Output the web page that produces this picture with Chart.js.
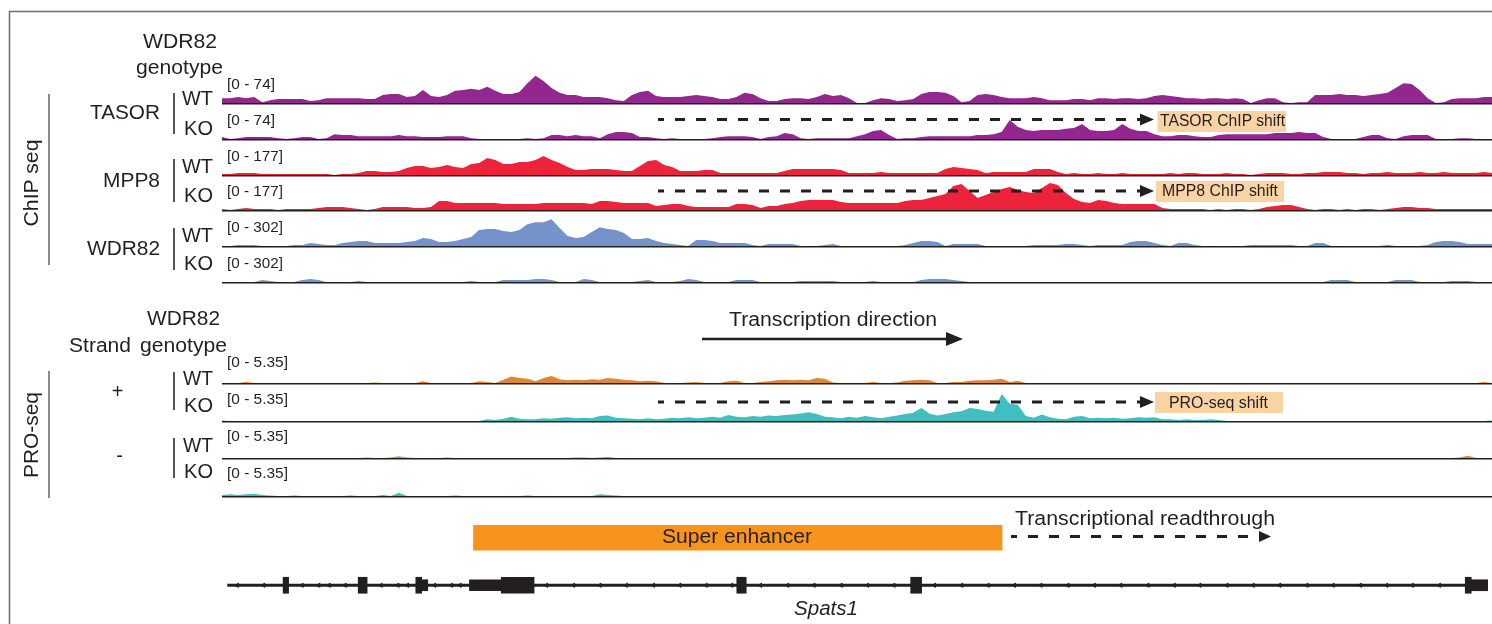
<!DOCTYPE html>
<html>
<head>
<meta charset="utf-8">
<title>Spats1 locus - ChIP-seq and PRO-seq tracks</title>
<script src="https://cdn.jsdelivr.net/npm/chart.js"></script>
<style>
  html, body { margin: 0; padding: 0; background: #fff; }
  #fig { position: relative; width: 1492px; height: 624px; overflow: hidden; }
  #fig canvas { position: absolute; }
  #fig svg { position: absolute; left: 0; top: 0; }
  svg text { fill: #231f20; font-family: "Liberation Sans", Arial, sans-serif; font-size: 20px; }
  svg text.rng { font-size: 15px; }
  svg text.box { font-size: 16px; }
</style>
</head>
<body>
<div id="fig">
<svg id="notes" width="1492" height="624" viewBox="0 0 1492 624">
  <!-- frame -->
  <path d="M9.5 624 V11.5 H1492" fill="none" stroke="#6d6e71" stroke-width="1.5"/>

  <!-- ChIP block -->
  <text x="143" y="48" textLength="74" lengthAdjust="spacingAndGlyphs">WDR82</text>
  <text x="136" y="74" textLength="87" lengthAdjust="spacingAndGlyphs">genotype</text>
  <path d="M49 94 V265" stroke="#4d4d4f" stroke-width="1.3"/>
  <text transform="translate(38,183) rotate(-90)" text-anchor="middle" textLength="87" lengthAdjust="spacingAndGlyphs">ChIP seq</text>

  <text x="90" y="119" textLength="70" lengthAdjust="spacingAndGlyphs">TASOR</text>
  <path d="M174 93 V134" stroke="#231f20" stroke-width="1.5"/>
  <text x="182" y="105" textLength="31" lengthAdjust="spacingAndGlyphs">WT</text>
  <text x="184" y="135" textLength="29" lengthAdjust="spacingAndGlyphs">KO</text>

  <text x="103" y="187" textLength="57" lengthAdjust="spacingAndGlyphs">MPP8</text>
  <path d="M174 159 V202" stroke="#231f20" stroke-width="1.5"/>
  <text x="182" y="173" textLength="31" lengthAdjust="spacingAndGlyphs">WT</text>
  <text x="184" y="202" textLength="29" lengthAdjust="spacingAndGlyphs">KO</text>

  <text x="87" y="255" textLength="73" lengthAdjust="spacingAndGlyphs">WDR82</text>
  <path d="M174 228 V270" stroke="#231f20" stroke-width="1.5"/>
  <text x="182" y="242" textLength="31" lengthAdjust="spacingAndGlyphs">WT</text>
  <text x="184" y="270" textLength="29" lengthAdjust="spacingAndGlyphs">KO</text>

  <text class="rng" x="227" y="89" textLength="48" lengthAdjust="spacingAndGlyphs">[0 - 74]</text>
  <text class="rng" x="227" y="125" textLength="48" lengthAdjust="spacingAndGlyphs">[0 - 74]</text>
  <text class="rng" x="227" y="161" textLength="56" lengthAdjust="spacingAndGlyphs">[0 - 177]</text>
  <text class="rng" x="227" y="196" textLength="56" lengthAdjust="spacingAndGlyphs">[0 - 177]</text>
  <text class="rng" x="227" y="232" textLength="56" lengthAdjust="spacingAndGlyphs">[0 - 302]</text>
  <text class="rng" x="227" y="268" textLength="56" lengthAdjust="spacingAndGlyphs">[0 - 302]</text>

  <!-- PRO-seq block -->
  <text x="147" y="325" textLength="73" lengthAdjust="spacingAndGlyphs">WDR82</text>
  <text x="69" y="352" textLength="62" lengthAdjust="spacingAndGlyphs">Strand</text>
  <text x="140" y="352" textLength="87" lengthAdjust="spacingAndGlyphs">genotype</text>
  <path d="M49 371 V498" stroke="#4d4d4f" stroke-width="1.3"/>
  <text transform="translate(38,435) rotate(-90)" text-anchor="middle" textLength="86" lengthAdjust="spacingAndGlyphs">PRO-seq</text>

  <text x="117.5" y="398" text-anchor="middle">+</text>
  <path d="M174 372 V410" stroke="#231f20" stroke-width="1.5"/>
  <text x="183" y="385" textLength="30" lengthAdjust="spacingAndGlyphs">WT</text>
  <text x="184" y="412" textLength="29" lengthAdjust="spacingAndGlyphs">KO</text>

  <text x="119.5" y="462" text-anchor="middle">-</text>
  <path d="M174 438 V478" stroke="#231f20" stroke-width="1.5"/>
  <text x="183" y="452" textLength="30" lengthAdjust="spacingAndGlyphs">WT</text>
  <text x="184" y="478" textLength="29" lengthAdjust="spacingAndGlyphs">KO</text>

  <text class="rng" x="227" y="367" textLength="61" lengthAdjust="spacingAndGlyphs">[0 - 5.35]</text>
  <text class="rng" x="227" y="404" textLength="61" lengthAdjust="spacingAndGlyphs">[0 - 5.35]</text>
  <text class="rng" x="227" y="441" textLength="61" lengthAdjust="spacingAndGlyphs">[0 - 5.35]</text>
  <text class="rng" x="227" y="478" textLength="61" lengthAdjust="spacingAndGlyphs">[0 - 5.35]</text>

  <!-- shift arrows -->
  <g stroke="#231f20" stroke-width="3" stroke-dasharray="10 11" stroke-dashoffset="4" fill="none">
    <path d="M658 119.5 H1141"/>
    <path d="M658 191 H1141"/>
    <path d="M658 402 H1141"/>
    <path d="M1011 536.5 H1259"/>
  </g>
  <g fill="#231f20">
    <polygon points="1140,113.5 1154,119.5 1140,125.5"/>
    <polygon points="1140,185 1154,191 1140,197"/>
    <polygon points="1140,396 1154,402 1140,408"/>
    <polygon points="1259,531 1271,536.5 1259,542"/>
  </g>
  <rect x="1157.5" y="111" width="128.5" height="21" fill="#fad3a4"/>
  <text class="box" x="1160" y="125.5" textLength="125" lengthAdjust="spacingAndGlyphs">TASOR ChIP shift</text>
  <rect x="1156" y="181" width="128" height="21" fill="#fad3a4"/>
  <text class="box" x="1162" y="195.5" textLength="116" lengthAdjust="spacingAndGlyphs">MPP8 ChIP shift</text>
  <rect x="1155" y="392" width="128" height="21" fill="#fad3a4"/>
  <text class="box" x="1169" y="407.5" textLength="99" lengthAdjust="spacingAndGlyphs">PRO-seq shift</text>

  <!-- transcription direction -->
  <text x="729" y="326" textLength="208" lengthAdjust="spacingAndGlyphs">Transcription direction</text>
  <path d="M702 339 H948" stroke="#231f20" stroke-width="2.5"/>
  <polygon points="946,332 963,339 946,346" fill="#231f20"/>

  <!-- enhancer / gene labels -->
  <text x="662" y="543" textLength="150" lengthAdjust="spacingAndGlyphs">Super enhancer</text>
  <text x="1015" y="525" textLength="260" lengthAdjust="spacingAndGlyphs">Transcriptional readthrough</text>
  <text x="794" y="615" font-style="italic" textLength="64" lengthAdjust="spacingAndGlyphs">Spats1</text>
</svg>
</div>

<script>
// genomic bins across the locus (159 bins, left to right)
const bins = Array.from({length: 159}, (_, i) => i);

// ChIP-seq coverage
const tasorWT = [
  12,12,15,12,15,2,7,10,10,10, 10,5,7,12,12,12,12,12,10,10,
  20,22,22,15,17,32,17,15,20,30, 32,35,32,40,30,22,22,27,49,67,
  54,37,25,20,20,15,15,15,12,7, 5,20,27,30,17,15,15,15,17,20,
  17,15,10,10,15,25,22,12,5,5, 10,12,12,10,15,22,17,20,12,0,
  0,7,12,10,5,7,10,22,27,27, 25,17,2,5,20,22,20,15,12,12,
  12,15,12,7,7,7,10,10,7,12, 12,10,12,12,10,12,17,20,17,15,
  12,12,10,12,12,10,12,10,0,7, 12,12,2,0,2,2,20,20,20,22,
  20,20,17,20,22,25,37,49,47,32, 12,0,2,10,12,12,12,15,15
];
const tasorKO = [
  5,0,2,5,5,5,5,2,0,2, 5,5,0,2,12,10,10,7,7,7,
  7,7,10,7,7,5,5,5,7,7, 7,2,0,0,0,0,0,0,2,0,
  2,10,10,7,10,7,7,2,12,17, 17,15,5,5,2,0,2,0,0,0,
  0,2,5,7,7,7,5,0,5,7, 15,12,2,0,2,2,2,2,2,7,
  12,20,22,10,0,2,2,5,7,7, 7,7,7,7,10,10,12,17,47,30,
  22,20,22,22,22,25,27,37,22,20, 20,22,37,25,20,20,12,7,7,10,
  10,7,5,5,10,12,12,12,12,12, 12,15,15,15,17,15,15,5,0,0,
  0,0,5,10,10,2,0,7,10,10, 10,0,0,0,2,2,0,0,0
];
const mpp8WT = [
  6,6,12,12,12,6,6,6,6,6, 6,6,6,6,0,6,6,12,24,24,
  18,18,24,41,53,53,41,47,59,47, 41,65,71,100,89,65,65,77,77,89,
  112,89,71,47,30,30,35,35,35,30, 24,24,53,83,89,59,47,24,24,24,
  30,30,12,12,12,12,12,12,12,12, 24,35,35,35,35,35,35,30,12,12,
  12,12,18,12,12,12,12,12,12,12, 35,47,41,35,30,12,18,18,18,18,
  18,35,35,35,18,6,12,6,6,12, 6,6,12,6,6,6,6,6,12,6,
  12,12,6,6,6,12,6,6,0,6, 12,12,12,6,6,12,12,18,18,18,
  12,12,6,12,12,18,12,12,12,18, 12,12,18,12,12,12,12,18,12
];
const mpp8KO = [
  6,0,6,12,6,6,6,0,6,6, 6,6,12,18,18,18,12,6,0,6,
  18,18,18,18,12,12,18,53,53,41, 41,41,41,41,41,35,35,35,35,35,
  41,41,41,41,41,41,35,53,53,47, 41,41,41,41,24,30,35,35,24,18,
  18,18,18,18,35,35,30,12,24,24, 35,41,53,59,59,59,59,47,41,41,
  41,41,41,41,41,53,59,59,71,83, 94,142,153,112,71,89,106,124,136,118,
  106,100,130,159,148,100,65,47,41,59, 53,41,35,35,35,35,35,12,6,6,
  6,6,6,0,6,0,6,6,0,6, 18,24,30,30,18,6,0,6,6,0,
  6,0,6,6,0,6,12,18,18,12, 12,6,6,6,6,6,6,6,6
];
const wdr82WT = [
  0,0,10,10,10,0,0,0,0,10, 10,30,20,10,10,30,40,50,50,30,
  30,30,30,40,50,80,70,40,40,50, 70,90,160,170,170,150,140,160,220,240,
  240,270,180,100,80,90,140,190,170,160, 130,70,70,80,50,30,20,10,0,60,
  60,50,30,30,30,30,10,0,20,20, 20,20,0,0,0,10,20,0,0,0,
  0,0,0,0,0,10,30,50,50,40, 0,20,20,20,20,0,0,0,0,0,
  0,10,10,10,10,20,20,10,0,10, 10,10,10,40,50,50,30,10,0,30,
  30,10,0,0,0,0,0,0,10,10, 10,10,10,10,0,0,30,30,0,0,
  0,0,0,0,0,10,0,0,0,0, 10,40,50,50,40,20,20,20,20
];
const wdr82KO = [
  0,0,0,0,0,20,10,0,0,0, 20,30,20,0,0,0,0,10,0,0,
  0,0,0,0,0,0,0,0,0,0, 0,10,0,0,0,20,20,20,20,30,
  30,20,0,0,0,30,20,0,0,0, 0,0,10,20,0,0,0,10,30,20,
  0,0,0,0,20,20,20,0,0,0, 0,0,10,10,10,10,10,0,0,0,
  0,10,0,0,0,0,0,20,30,30, 30,20,10,0,0,0,0,0,0,0,
  0,0,0,0,0,0,0,0,0,0, 0,0,0,0,0,0,0,0,0,0,
  0,0,0,0,0,0,0,0,0,0, 0,0,0,0,0,0,0,0,20,20,
  20,0,0,0,0,0,20,20,20,0, 0,0,0,10,10,10,0,0,0
];

// PRO-seq signal
const proPlusWT = [
  0,0,0,0.2,0,0,0,0,0,0, 0,0,0,0,0,0,0,0,0,0.1,
  0,0,0,0,0,0.3,0,0,0,0, 0,0,0.3,0.2,0,0.6,1.2,0.9,0.8,0.3,
  0.9,1.3,0.7,0.5,0.6,0.5,0.7,0.6,0.9,0.8, 0.6,0.5,0.3,0.4,0.3,0,0,0,0.1,0.2,
  0,0,0,0.3,0.4,0,0,0.2,0.3,0.5, 0.6,0.5,0.6,0.5,0.9,0.8,0.1,0,0,0,
  0,0.2,0,0,0.1,0.4,0.5,0.6,0.5,0, 0,0.2,0.2,0.4,0.5,0.5,0.6,0.8,0.2,0.4,
  0,0,0,0,0,0,0,0,0,0, 0,0,0,0,0,0,0,0,0,0,
  0,0,0,0,0,0,0,0,0,0, 0,0,0,0,0,0,0,0,0,0,
  0,0,0,0,0,0,0,0,0,0, 0,0,0,0,0,0,0,0.2,0
];
const proPlusKO = [
  0.1,0,0,0,0,0,0,0,0,0, 0,0,0,0,0,0,0,0,0,0,
  0,0,0,0,0,0,0,0,0,0, 0,0,0,0.3,0.2,0.4,0.8,0.4,0.3,0.3,
  0.5,0.4,0.6,0.7,0.5,0.6,0.5,0.9,1.0,0.6, 0.5,0.4,0.3,0.5,0.3,0.4,0.6,0.5,0.7,0.5,
  0.6,0.8,0.6,1.1,0.8,0.7,0.9,0.8,1.0,0.9, 1.1,1.2,1.4,1.6,1.3,0.8,0.7,0.5,0.8,0.6,
  0.9,0.7,0.5,0.8,1.0,1.3,1.5,2.4,1.4,1.0, 1.3,1.6,1.8,2.4,2.2,1.9,1.7,5.0,3.2,3.0,
  0.9,0.6,1.2,0.7,0.4,0.3,0.8,0.9,0.5,0.6, 0.5,0.6,0.4,0.5,0.7,0.6,0.7,0.3,0.3,0.2,
  0.3,0.2,0.2,0.3,0.2,0,0,0,0,0, 0,0,0,0,0,0,0,0,0,0,
  0,0,0,0,0,0,0,0,0,0, 0,0,0,0,0,0,0,0,0.1
];
// minus strand is nearly empty: bins with signal and their values
const proMinusWTBins = [18, 21, 22, 23, 28, 44, 45, 47, 48, 154, 155];
const proMinusWTVals = [0.1, 0.1, 0.3, 0.1, 0.1, 0.1, 0.1, 0.1, 0.2, 0.1, 0.4];
const proMinusKOBins = [0, 1, 2, 3, 4, 5, 6, 9, 16, 20, 22, 29, 38, 47, 48, 49];
const proMinusKOVals = [0.2, 0.3, 0.2, 0.3, 0.4, 0.2, 0.1, 0.1, 0.1, 0.2, 0.6, 0.1, 0.1, 0.3, 0.2, 0.1];

function fromSparse(idx, vals) {
  const out = bins.map(() => 0);
  idx.forEach((b, i) => { out[b] = vals[i]; });
  return out;
}
const proMinusWT = fromSparse(proMinusWTBins, proMinusWTVals);
const proMinusKO = fromSparse(proMinusKOBins, proMinusKOVals);

// gene model and super enhancer, in bin units
const geneStart = [0.2];
const geneEnd = [158];
const exonStart = [7.15, 16.55, 23.76, 24.5, 30.48, 34.46, 63.95, 85.72, 155.15, 155.9];
const exonEnd = [7.84, 17.67, 24.5, 25.26, 34.46, 38.57, 65.13, 87.09, 155.9, 158];
const exonType = ['CDS', 'CDS', 'CDS', 'UTR', 'UTR', 'CDS', 'CDS', 'CDS', 'CDS', 'UTR'];
const chevrons = [1.4, 4.7, 9.5, 11.6, 12.9, 14.9, 19.4, 21.5, 22.7, 26.1, 28.2, 29.3,
  40.1, 43.5, 46.8, 50.1, 53.5, 56.8, 60.1, 63.3, 66.9, 70.3, 73.6, 77.0, 80.3, 83.6,
  88.7, 92.1, 95.4, 98.7, 102.0, 105.4, 108.7, 112.0, 115.4, 118.7, 121.9, 125.3,
  128.6, 131.9, 135.3, 138.6, 142.0, 145.3, 148.5, 151.9];
const enhancerStart = [30.98];
const enhancerEnd = [97.16];

const fig = document.getElementById('fig');
const notes = document.getElementById('notes');

function makeCanvas(left, top, w, h) {
  const c = document.createElement('canvas');
  c.width = w;
  c.height = h;
  c.style.left = left + 'px';
  c.style.top = top + 'px';
  fig.insertBefore(c, notes);
  return c;
}

// dark baseline under each track
const baseline = {
  id: 'baseline',
  afterDatasetsDraw(chart) {
    const {ctx, chartArea, scales} = chart;
    const y = Math.round(scales.y.getPixelForValue(0)) + 0.75;
    ctx.save();
    ctx.strokeStyle = '#231f20';
    ctx.lineWidth = 1.5;
    ctx.beginPath();
    ctx.moveTo(chartArea.left, y);
    ctx.lineTo(chartArea.right, y);
    ctx.stroke();
    ctx.restore();
  }
};

const tracks = [
  {data: tasorWT, max: 74, color: '#93278f', base: 103, h: 30},
  {data: tasorKO, max: 74, color: '#93278f', base: 139, h: 30},
  {data: mpp8WT, max: 177, color: '#ec233b', base: 175, h: 30},
  {data: mpp8KO, max: 177, color: '#ec233b', base: 210, h: 30},
  {data: wdr82WT, max: 302, color: '#7592cb', base: 246, h: 30},
  {data: wdr82KO, max: 302, color: '#7592cb', base: 282, h: 30},
  {data: proPlusWT, max: 5.35, color: '#e0892b', base: 383, h: 29},
  {data: proPlusKO, max: 5.35, color: '#3fbfc0', base: 421, h: 29},
  {data: proMinusWT, max: 5.35, color: '#e0892b', base: 458, h: 29},
  {data: proMinusKO, max: 5.35, color: '#3fbfc0', base: 496, h: 29}
];

tracks.forEach(t => {
  const cv = makeCanvas(222, t.base - t.h, 1270, t.h + 2);
  new Chart(cv, {
    type: 'line',
    data: {
      labels: bins,
      datasets: [{
        data: t.data,
        fill: 'origin',
        backgroundColor: t.color,
        borderWidth: 0,
        pointRadius: 0,
        tension: 0
      }]
    },
    options: {
      responsive: false,
      animation: false,
      events: [],
      layout: {padding: {top: 0, bottom: 2, left: 0, right: 0}},
      plugins: {legend: {display: false}, tooltip: {enabled: false}},
      scales: {
        x: {display: false, offset: false},
        y: {display: false, min: 0, max: t.max}
      }
    },
    plugins: [baseline]
  });
});

// gene model + super enhancer
const exonSets = exonStart.map((s, i) => ({
  indexAxis: 'y',
  grouped: false,
  data: [null, [s, exonEnd[i]]],
  backgroundColor: '#231f20',
  borderWidth: 0,
  barThickness: exonType[i] === 'CDS' ? 16 : 11
}));

new Chart(makeCanvas(222, 510, 1270, 103), {
  type: 'bar',
  data: {
    labels: ['enhancer', 'gene'],
    datasets: [
      {
        indexAxis: 'y', grouped: false,
        data: [[enhancerStart[0], enhancerEnd[0]], null],
        backgroundColor: '#f7941d', borderWidth: 0, barThickness: 25
      },
      {
        indexAxis: 'y', grouped: false,
        data: [null, [geneStart[0], geneEnd[0]]],
        backgroundColor: '#231f20', borderWidth: 0, barThickness: 2.5
      },
      ...exonSets,
      {
        type: 'scatter',
        data: chevrons.map(x => ({x: x, y: 'gene'})),
        pointStyle: 'triangle',
        rotation: -90,
        radius: 3.2,
        backgroundColor: '#231f20',
        borderWidth: 0
      }
    ]
  },
  options: {
    indexAxis: 'y',
    responsive: false,
    animation: false,
    events: [],
    layout: {padding: 0},
    plugins: {legend: {display: false}, tooltip: {enabled: false}},
    scales: {
      x: {type: 'linear', display: false, min: 0, max: 158},
      y: {type: 'category', display: false, offset: true}
    }
  }
});
</script>
</body>
</html>
